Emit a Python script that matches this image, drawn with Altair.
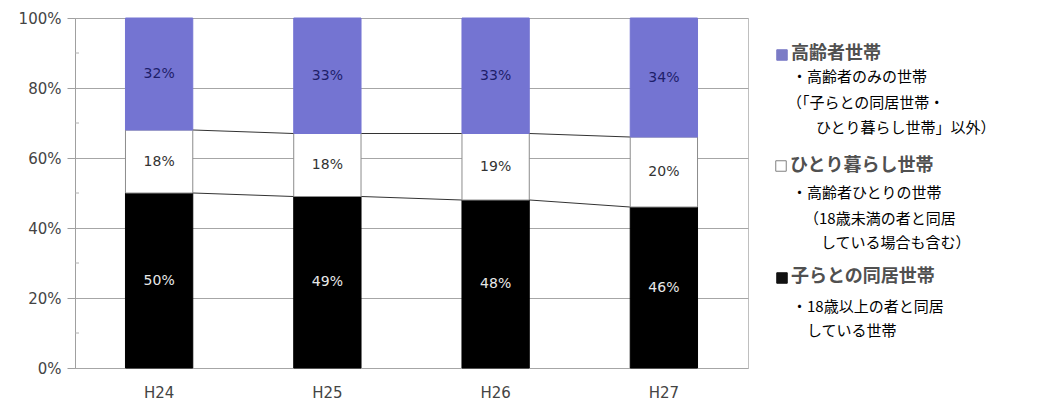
import altair as alt
import pandas as pd

# ---------------- data ----------------
categories = ["H24", "H25", "H26", "H27"]
series_names = ["子らとの同居世帯", "ひとり暮らし世帯", "高齢者世帯"]
kora_values = [50, 49, 48, 46]        # 子らとの同居世帯 (black)
hitori_values = [18, 18, 19, 20]      # ひとり暮らし世帯 (white)
koreisha_values = [32, 33, 33, 34]    # 高齢者世帯 (purple)
y_ticks = [0, 20, 40, 60, 80, 100]
minor_ticks = [10, 30, 50, 70, 90]

# legend texts
legend_headers = ["高齢者世帯", "ひとり暮らし世帯", "子らとの同居世帯"]
legend_desc = [
    "・高齢者のみの世帯",
    "（「子らとの同居世帯・",
    "ひとり暮らし世帯」以外）",
    "・高齢者ひとりの世帯",
    "（18歳未満の者と同居",
    "している場合も含む）",
    "・18歳以上の者と同居",
    "している世帯",
]

# ---------------- styles / layout ----------------
fill_colors = ["#000000", "#FFFFFF", "#7474D2"]
stroke_colors = ["#000000", "#8C8C8C", "#7474D2"]
label_colors = ["#E8E8E8", "#333333", "#1E1E6A"]
W, H = 673, 350
X0, Y0 = 75, 19  # page position of plot origin (for legend placement)
header_pos = [(791, 55), (790, 167), (791, 278)]
square_pos = [(782, 56), (781, 167), (782, 279)]
desc_pos = [(792, 78), (787, 104), (816, 129), (792, 194), (804, 220),
            (821, 244), (792, 308), (807, 332)]

# ---------------- tables ----------------
rows = []
for i, c in enumerate(categories):
    base = 0
    for k, (s, vals) in enumerate(zip(series_names, [kora_values, hitori_values, koreisha_values])):
        v = vals[i]
        rows.append({"cat": c, "series": s, "y0": base, "y1": base + v,
                     "mid": base + v / 2, "label": f"{v}%"})
        base += v
bars_df = pd.DataFrame(rows)

conn = []
for i in range(len(categories) - 1):
    a = kora_values[i]
    b = kora_values[i + 1]
    conn.append({"cat": categories[i], "next": categories[i + 1], "ya": a, "yb": b})
    conn.append({"cat": categories[i], "next": categories[i + 1],
                 "ya": a + hitori_values[i], "yb": b + hitori_values[i + 1]})
conn_df = pd.DataFrame(conn)
minor_df = pd.DataFrame({"t": minor_ticks})

xscale = alt.Scale(domain=categories, paddingInner=0.6, paddingOuter=0.3)
yscale = alt.Scale(domain=[0, 100])

bars = alt.Chart(bars_df).mark_bar(strokeWidth=1).encode(
    x=alt.X("cat:N", sort=categories, scale=xscale,
            axis=alt.Axis(title=None, labelAngle=0, ticks=False, domain=False,
                          labelPadding=17, labelFontSize=15, labelColor="#444444",
                          labelFont="DejaVu Sans")),
    y=alt.Y("y1:Q", scale=yscale,
            axis=alt.Axis(title=None, values=y_ticks, labelExpr="datum.value + '%'",
                          tickSize=8, tickColor="#A0A0A0", domainColor="#A0A0A0",
                          gridColor="#A6A6A6", labelPadding=6, labelFontSize=15,
                          labelColor="#444444", labelFont="DejaVu Sans",
                          minExtent=62, maxExtent=62)),
    y2="y0:Q",
    fill=alt.Fill("series:N", scale=alt.Scale(domain=series_names, range=fill_colors), legend=None),
    stroke=alt.Stroke("series:N", scale=alt.Scale(domain=series_names, range=stroke_colors), legend=None),
)

labels = alt.Chart(bars_df).mark_text(font="DejaVu Sans", fontSize=14, baseline="middle").encode(
    x=alt.X("cat:N", sort=categories, scale=xscale, title=None),
    y=alt.Y("mid:Q", scale=yscale, title=None),
    text="label:N",
    color=alt.Color("series:N", scale=alt.Scale(domain=series_names, range=label_colors), legend=None),
)

connectors = alt.Chart(conn_df).mark_rule(color="#333333", strokeWidth=1, xOffset=34, x2Offset=-34).encode(
    x=alt.X("cat:N", sort=categories, scale=xscale, title=None),
    x2="next:N",
    y=alt.Y("ya:Q", scale=yscale, title=None),
    y2="yb:Q",
)

minor = alt.Chart(minor_df).mark_rule(color="#B0B0B0").encode(
    y=alt.Y("t:Q", scale=yscale, title=None),
    x=alt.value(0),
    x2=alt.value(4),
)

main = alt.layer(bars, minor, connectors, labels)

# ---------------- custom legend ----------------
hdr_df = pd.DataFrame({
    "text": legend_headers,
    "px": [p[0] - X0 for p in header_pos],
    "py": [p[1] - Y0 for p in header_pos],
})
sq_df = pd.DataFrame({
    "series": list(reversed(series_names)),
    "px": [p[0] - X0 for p in square_pos],
    "py": [p[1] - Y0 for p in square_pos],
})
desc_df = pd.DataFrame({
    "text": legend_desc,
    "px": [p[0] - X0 for p in desc_pos],
    "py": [p[1] - Y0 for p in desc_pos],
})

hdr = alt.Chart(hdr_df).mark_text(font="Noto Sans CJK JP", fontSize=18, fontWeight="bold",
                                  color="#505050", align="left", baseline="middle").encode(
    x=alt.X("px:Q", scale=None, axis=None),
    y=alt.Y("py:Q", scale=None, axis=None),
    text="text:N",
)
sq = alt.Chart(sq_df).mark_point(shape="square", size=110, filled=True, opacity=1, strokeWidth=1).encode(
    x=alt.X("px:Q", scale=None, axis=None),
    y=alt.Y("py:Q", scale=None, axis=None),
    fill=alt.Fill("series:N", scale=alt.Scale(domain=series_names, range=["#111111", "#FFFFFF", "#7B7BC6"]), legend=None),
    stroke=alt.Stroke("series:N", scale=alt.Scale(domain=series_names, range=["#111111", "#808080", "#7B7BC6"]), legend=None),
)
desc = alt.Chart(desc_df).mark_text(font="Noto Sans CJK JP", fontSize=15, color="#000000",
                                    align="left", baseline="middle").encode(
    x=alt.X("px:Q", scale=None, axis=None),
    y=alt.Y("py:Q", scale=None, axis=None),
    text="text:N",
)
legend = alt.layer(sq, hdr, desc)

chart = alt.layer(main, legend).resolve_scale(
    x="independent", y="independent", fill="independent", stroke="independent", color="independent"
).properties(
    width=W, height=H,
    padding={"left": 5, "top": 3, "right": 5, "bottom": 0},
).configure_view(stroke="#BFBFBF")

chart.save("out.html", embed_options={"renderer": "svg", "actions": False})
